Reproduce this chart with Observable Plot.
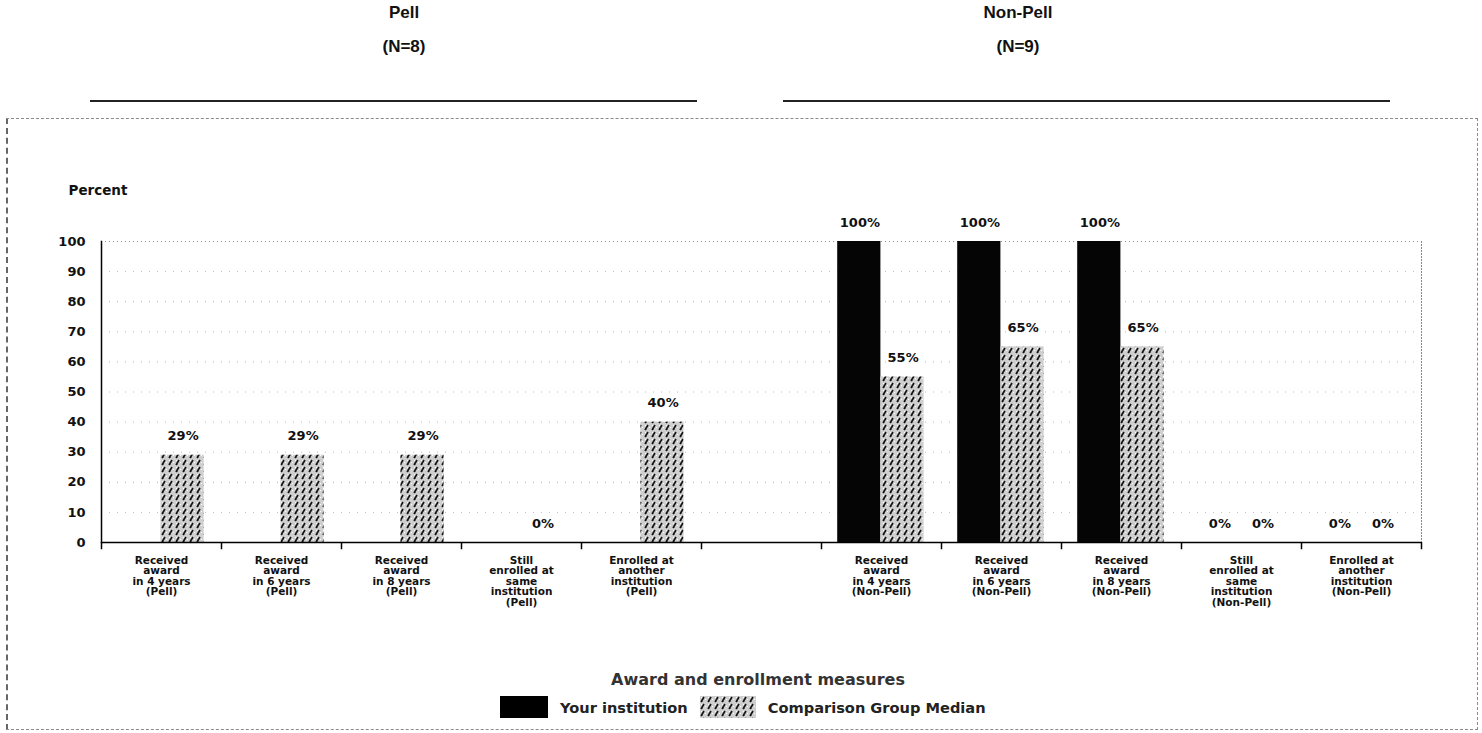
<!DOCTYPE html>
<html>
<head>
<meta charset="utf-8">
<script src="https://cdn.jsdelivr.net/npm/d3@7"></script>
<script src="https://cdn.jsdelivr.net/npm/@observablehq/plot@0.6"></script>
<style>
  html, body { margin: 0; padding: 0; background: #fff; }
  #page { position: relative; width: 1482px; height: 733px; overflow: hidden; background: #fff;
          font-family: "Liberation Sans", Arial, sans-serif; color: #111; }
  .ttl { position: absolute; width: 300px; text-align: center; font-weight: bold; font-size: 17px; line-height: 20px; }
  .rule { position: absolute; height: 2px; background: #222; }
  #box { position: absolute; left: 6px; top: 118px; width: 1469px; height: 610px; border: 1px dashed #8a8a8a; border-left: 2px dashed #666; }
  #chart { position: absolute; left: 0; top: 130px; }
  #xlabel { position: absolute; left: 408px; width: 700px; top: 670px; text-align: center;
            font-family: "DejaVu Sans", sans-serif; font-weight: bold; font-size: 16px; color: #333; }
  #legend { position: absolute; top: 696px; left: 500px; height: 22px; display: flex; align-items: center;
            font-family: "DejaVu Sans", sans-serif; font-weight: bold; font-size: 14.6px; color: #222; }
  #legend .sw { height: 22px; margin-right: 12px; }
  #legend .lab { margin-right: 12px; }
</style>
</head>
<body>
<div id="page">
  <div class="ttl" style="left:254px; top:3px;">Pell</div>
  <div class="ttl" style="left:254px; top:37px;">(N=8)</div>
  <div class="ttl" style="left:868px; top:3px;">Non-Pell</div>
  <div class="ttl" style="left:868px; top:37px;">(N=9)</div>
  <div class="rule" style="left:90px; width:607px; top:100px;"></div>
  <div class="rule" style="left:783px; width:607px; top:100px;"></div>
  <div id="box"></div>
  <div id="chart"></div>
  <div id="xlabel">Award and enrollment measures</div>
  <div id="legend">
    <svg class="sw" width="48" height="22"><rect width="48" height="22" fill="#000"></rect></svg>
    <span class="lab">Your institution</span>
    <svg class="sw" width="56" height="22"><rect width="56" height="22" fill="url(#cmpPattern)"></rect></svg>
    <span>Comparison Group Median</span>
  </div>
</div>
<script>
// ---- data ----
const pellCategories = [
  "Received\naward\nin 4 years\n(Pell)",
  "Received\naward\nin 6 years\n(Pell)",
  "Received\naward\nin 8 years\n(Pell)",
  "Still\nenrolled at\nsame\ninstitution\n(Pell)",
  "Enrolled at\nanother\ninstitution\n(Pell)"
];
const gapCategory = " ";
const nonPellCategories = [
  "Received\naward\nin 4 years\n(Non-Pell)",
  "Received\naward\nin 6 years\n(Non-Pell)",
  "Received\naward\nin 8 years\n(Non-Pell)",
  "Still\nenrolled at\nsame\ninstitution\n(Non-Pell)",
  "Enrolled at\nanother\ninstitution\n(Non-Pell)"
];
const seriesNames = ["Your institution", "Comparison Group Median"];
const yourPell = [null, null, null, null, null];
const comparisonPell = [29, 29, 29, 0, 40];
const yourNonPell = [100, 100, 100, 0, 0];
const comparisonNonPell = [55, 65, 65, 0, 0];
const yTicks = [0, 10, 20, 30, 40, 50, 60, 70, 80, 90, 100];

// ---- table ----
const xDomain = [...pellCategories, gapCategory, ...nonPellCategories];
const rows = [];
pellCategories.forEach((c, i) => {
  rows.push({cat: c, series: seriesNames[0], value: yourPell[i]});
  rows.push({cat: c, series: seriesNames[1], value: comparisonPell[i]});
});
nonPellCategories.forEach((c, i) => {
  rows.push({cat: c, series: seriesNames[0], value: yourNonPell[i]});
  rows.push({cat: c, series: seriesNames[1], value: comparisonNonPell[i]});
});
const valid = rows.filter(d => d.value != null);
const yours = valid.filter(d => d.series === seriesNames[0]);
const comps = valid.filter(d => d.series === seriesNames[1]);

// ---- layout ----
const W = 1482, H = 540, ML = 101, MR = 61, MT = 111, MB = 128;
const bw = (W - ML - MR) / xDomain.length;
const numFont = "'DejaVu Sans', sans-serif";

const chart = Plot.plot({
  width: W, height: H,
  marginLeft: ML, marginRight: MR, marginTop: MT, marginBottom: MB,
  style: {fontFamily: "'Liberation Sans', Arial, sans-serif", background: "transparent", overflow: "visible", color: "#111"},
  x: {type: "band", domain: xDomain, padding: 0, axis: null},
  y: {domain: [0, 100], axis: null},
  marks: [
    Plot.gridY(yTicks.filter(d => d > 0 && d < 100), {stroke: "#888", strokeOpacity: 0.6, strokeDasharray: "1,7"}),
    Plot.gridY([100], {stroke: "#777", strokeOpacity: 0.8, strokeDasharray: "1,3"}),
    Plot.frame({anchor: "right", stroke: "#888", strokeDasharray: "1,2"}),
    Plot.barY(yours, {x: "cat", y: "value", fill: "#050505", insetLeft: bw * 0.135, insetRight: bw * 0.505}),
    Plot.barY(comps, {x: "cat", y: "value", fill: "url(#cmpPattern)", insetLeft: bw * 0.495, insetRight: bw * 0.145}),
    Plot.frame({anchor: "left", stroke: "#000", strokeWidth: 1.5}),
    Plot.ruleY([0], {stroke: "#000", strokeWidth: 1.5}),
    Plot.ruleX(xDomain, {x: d => d, y1: 0, y2: -2.4, dx: -bw / 2, stroke: "#000", strokeWidth: 1.5}),
    Plot.ruleX(xDomain.slice(-1), {x: d => d, y1: 0, y2: -2.4, dx: bw / 2, stroke: "#000", strokeWidth: 1.5}),
    Plot.axisX({tickSize: 0, tickPadding: 14, fontSize: 10.5, fontWeight: "bold", fontFamily: numFont,
                lineHeight: 1.0, label: null, tickFormat: d => d, fill: "#111"}),
    Plot.axisY({ticks: yTicks, tickSize: 0, tickPadding: 16, fontSize: 13, fontWeight: "bold",
                fontFamily: numFont, label: null, fill: "#111"}),
    Plot.text(["Percent"], {text: d => d, frameAnchor: "top-left", dx: -33, dy: -56, textAnchor: "start",
                fontWeight: "bold", fontSize: 13.5, fontFamily: numFont}),
    Plot.text(yours, {x: "cat", y: "value", text: d => d.value + "%", dx: -bw * 0.18, dy: -19,
                fontWeight: "bold", fontSize: 13, fontFamily: numFont}),
    Plot.text(comps, {x: "cat", y: "value", text: d => d.value + "%", dx: bw * 0.18, dy: -19,
                fontWeight: "bold", fontSize: 13, fontFamily: numFont})
  ]
});

// pattern for the comparison group bars
const defs = d3.select(chart).insert("defs", ":first-child");
const pat = defs.append("pattern").attr("id", "cmpPattern")
  .attr("patternUnits", "userSpaceOnUse").attr("width", 7).attr("height", 7);
pat.append("rect").attr("width", 7).attr("height", 7).attr("fill", "#cfcfcf");
pat.append("rect").attr("x", 1).attr("y", 1).attr("width", 1).attr("height", 1).attr("fill", "#fff");
pat.append("rect").attr("x", 5).attr("y", 3).attr("width", 1).attr("height", 1).attr("fill", "#fff");
pat.append("rect").attr("x", 2).attr("y", 5).attr("width", 1).attr("height", 1).attr("fill", "#888");
pat.append("path").attr("d", "M1,6 L4,1").attr("stroke", "#111").attr("stroke-width", 1.6);

document.getElementById("chart").appendChild(chart);
</script>
</body>
</html>
